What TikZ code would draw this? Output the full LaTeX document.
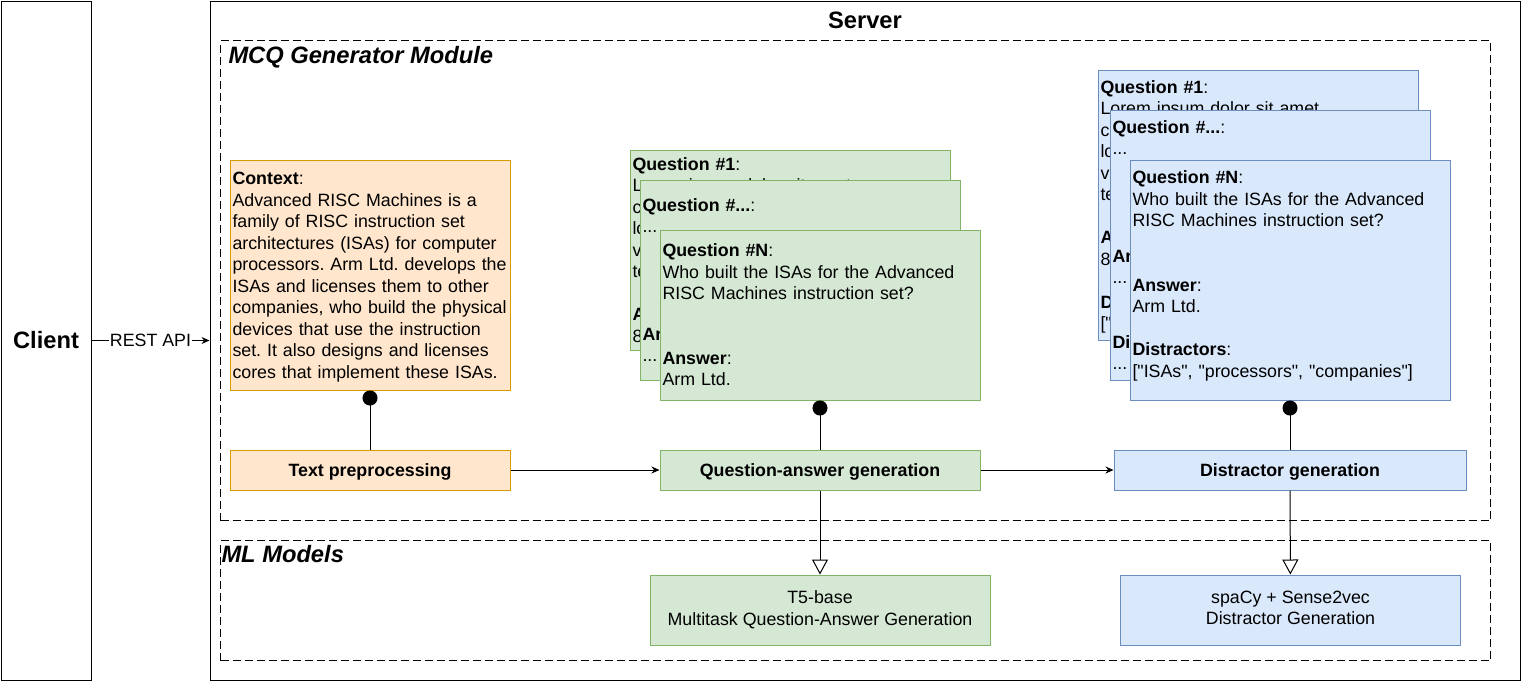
\documentclass[tikz,border=0pt]{standalone}
\usepackage{fontspec}
\setmainfont{Liberation Sans}[Ligatures=TeXOff]
\usepackage{tikz}
\usetikzlibrary{positioning,arrows.meta,calc}
\definecolor{ctxfill}{HTML}{FFE6CC}
\definecolor{ctxdraw}{HTML}{D79B00}
\definecolor{qafill}{HTML}{D5E8D4}
\definecolor{qadraw}{HTML}{82B366}
\definecolor{dgfill}{HTML}{DAE8FC}
\definecolor{dgdraw}{HTML}{6C8EBF}
\newcommand{\cardfont}{\fontsize{17.8pt}{21.5pt}\selectfont\frenchspacing}
\newcommand{\bigfont}{\fontsize{23.7pt}{28pt}\selectfont}
\newcommand{\cstrut}{\rule[-4.35pt]{0pt}{21.5pt}}

\begin{document}
\begin{tikzpicture}[x=1pt,y=-1pt,line width=1pt,
        mainbox/.style={draw,inner sep=0pt},
        dashbox/.style={draw,dash pattern=on 8pt off 4pt,inner sep=0pt},
        title/.style={font=\bigfont\bfseries,inner sep=0pt},
        card/.style={inner xsep=2.5pt,inner ysep=0pt,align=left,font=\cardfont,
            execute at begin node=\cstrut,execute at end node=\cstrut},
        stepbox/.style={card,align=center,minimum height=40pt,font=\cardfont\bfseries},
        model/.style={card,align=center,minimum width=340pt,minimum height=70pt},
        ctxcol/.style={fill=ctxfill,draw=ctxdraw},
        qacol/.style={fill=qafill,draw=qadraw},
        dgcol/.style={fill=dgfill,draw=dgdraw},
        arr/.style={-{Stealth[length=8pt,width=7pt]}},
        dotarr/.style={-{Circle[length=15pt]}},
        openarr/.style={-{Triangle[length=15pt,width=16pt,fill=white]}}]
    \useasboundingbox (0,0) rectangle (1521,681);

    \node[mainbox,minimum width=90pt,minimum height=679pt,font=\bigfont\bfseries] (client) at (46,340.5) {Client};
    \node[mainbox,minimum width=1310pt,minimum height=679pt] (server) at (865,340.5) {};
    \node[title,anchor=base] (servertitle) at (865,28.5) {Server};

    \node[dashbox,minimum width=1270pt,minimum height=480pt] (mcq) at (855.5,280.5) {};
    \node[title,font=\bigfont\bfseries\itshape,anchor=base west] (mcqtitle) at (228,63.5) {MCQ Generator Module};
    \node[dashbox,minimum width=1270pt,minimum height=120pt] (ml) at (855.5,600.5) {};
    \node[title,font=\bigfont\bfseries\itshape,anchor=base west] (mltitle) at (221,562) {ML Models};

    \node[card,ctxcol,minimum width=280pt,minimum height=230pt,text width=275pt] (ctx) at (370,275) {%
        \textbf{Context}:\\
        Advanced RISC Machines is a\\
        family of RISC instruction set\\
        architectures (ISAs) for computer\\
        processors. Arm Ltd. develops the\\
        ISAs and licenses them to other\\
        companies, who build the physical\\
        devices that use the instruction\\
        set. It also designs and licenses\\
        cores that implement these ISAs.};

    \node[card,qacol,minimum width=320pt,minimum height=200pt,text width=315pt] (qa1) at (790,250) {%
        \textbf{Question \#1}:\\
        Lorem ipsum dolor sit amet,\\
        consectetur adipiscing elit, sed do\\
        lorem ipsum dolor sit amet,\\
        vestibulum ante ipsum primis\\
        tempor incididunt ut labore?\\[21.5pt]
        \textbf{Answer}:\\
        8};
    \node[card,qacol,minimum width=320pt,minimum height=200pt,text width=315pt] (qa2) at (800,280) {%
        \textbf{Question \#...}:\\
        ...\\[86pt]
        \textbf{Answer}:\\
        ...};
    \node[card,qacol,minimum width=320pt,minimum height=170pt,text width=315pt] (qa3) at (820,315) {%
        \textbf{Question \#N}:\\
        Who built the ISAs for the Advanced\\
        RISC Machines instruction set?\\[43pt]
        \textbf{Answer}:\\
        Arm Ltd.};

    \node[card,dgcol,minimum width=320pt,minimum height=270pt,text width=315pt] (dg1) at (1258,205) {%
        \textbf{Question \#1}:\\
        Lorem ipsum dolor sit amet,\\
        consectetur adipiscing elit, sed do\\
        lorem ipsum dolor sit amet,\\
        vestibulum ante ipsum primis\\
        tempor incididunt ut labore?\\[21.5pt]
        \textbf{Answer}:\\
        8\\[21.5pt]
        \textbf{Distractors}:\\
        \relax["...", "...", "..."]};
    \node[card,dgcol,minimum width=320pt,minimum height=270pt,text width=315pt] (dg2) at (1270,245) {%
        \textbf{Question \#...}:\\
        ...\\[86pt]
        \textbf{Answer}:\\
        ...\\[43pt]
        \textbf{Distractors}:\\
        ...};
    \node[card,dgcol,minimum width=320pt,minimum height=240pt,text width=315pt] (dg3) at (1290,280) {%
        \textbf{Question \#N}:\\
        Who built the ISAs for the Advanced\\
        RISC Machines instruction set?\\[43pt]
        \textbf{Answer}:\\
        Arm Ltd.\\[21.5pt]
        \textbf{Distractors}:\\
        \relax["ISAs", "processors", "companies"]\\[-9.9pt]\cstrut};

    \node[stepbox,ctxcol,minimum width=280pt] (prep) at (370,470) {Text preprocessing};
    \node[stepbox,qacol,minimum width=320pt] (qagen) at (820,470) {Question-answer generation};
    \node[stepbox,dgcol,minimum width=352pt] (dgen) at (1290,470) {Distractor generation};

    \node[model,qacol] (t5) at (820,610) {T5-base\\Multitask Question-Answer Generation};
    \node[model,dgcol] (s2v) at (1290.5,610) {spaCy + Sense2vec\\Distractor Generation};

    \draw[arr] (client) -- node[fill=white,inner sep=1pt,font=\cardfont] (rest) {REST API} (server);
    \draw[dotarr] (prep) -- (ctx);
    \draw[dotarr] (qagen) -- (qa3);
    \draw[dotarr] (dgen) -- (dg3);
    \draw[arr] (prep) -- (qagen);
    \draw[arr] (qagen) -- (dgen);
    \draw[openarr] (qagen) -- (t5);
    \draw[openarr] (dgen) -- (s2v);
\end{tikzpicture}
\end{document}
